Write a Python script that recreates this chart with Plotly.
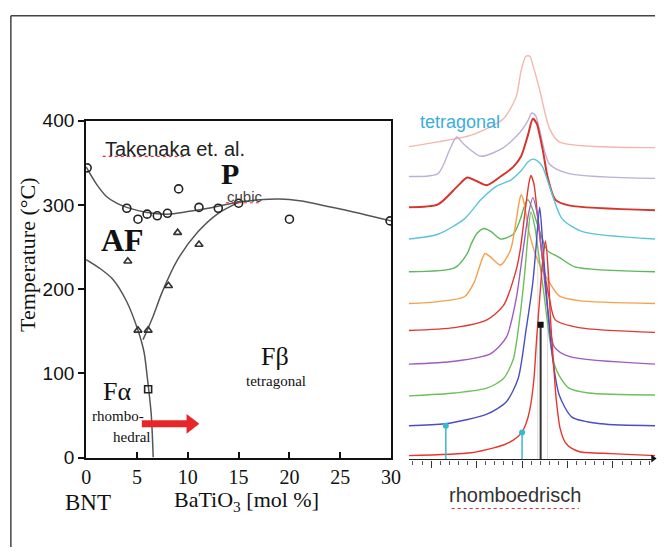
import plotly.graph_objects as go

W, H = 665, 558

# ---------------- Phase diagram data (x: BaTiO3 mol %, y: temperature in °C) ----------------
circ_x = [0.1, 4.0, 5.1, 6.0, 7.0, 8.0, 9.1, 11.1, 13.0, 15.0, 20.0, 29.9]
circ_y = [344, 296, 283, 289, 287, 290, 319, 297, 296, 302, 283, 281]
tri_x = [4.1, 5.1, 6.1, 8.1, 9.0, 11.1]
tri_y = [233, 151, 151, 204, 267, 253]
sq_x = [6.1]
sq_y = [81]

# upper boundary (AF/F -> P)
upper_x = [0, 1, 2, 3, 4, 6, 8, 10, 12, 14, 15, 17, 19, 21, 25, 30]
upper_y = [345, 325, 310, 302, 297, 291, 289, 292, 296, 301, 303, 306, 307, 305, 295, 281]
# AF / F-alpha boundary
afa_x = [0, 1.3, 2.6, 4.0, 5.1, 5.7, 6.0, 6.4, 6.6]
afa_y = [235, 225, 212, 185, 151, 125, 97, 52, 0]
# F-beta boundary
fb_x = [5.6, 6.5, 7.5, 9.0, 11.0, 13.0, 15.0]
fb_y = [140, 165, 197, 235, 268, 290, 303]

# arrow (BaTiO3 direction) at constant temperature
arrow_x = [5.48, 10.1]
arrow_y = [40, 40]

x_ticks = [0, 5, 10, 15, 20, 25, 30]
y_ticks = [0, 100, 200, 300, 400]

# ---------------- XRD stack data (position a.u., intensity + offset a.u.) ----------------
xrd_u = {
    "A": [0, 64, 87, 97, 107, 115, 120, 124, 128, 131, 134, 137, 140, 143, 145, 148, 151, 155, 160, 166, 175, 207, 252],
    "B": [0, 37, 80, 100, 112, 120, 127, 130, 134, 137, 140, 147, 154, 167, 197, 252],
    "C": [0, 47, 80, 97, 107, 114, 119, 122, 125, 129, 134, 139, 144, 149, 154, 164, 184, 252],
    "D": [0, 47, 84, 100, 110, 117, 122, 127, 132, 137, 142, 149, 164, 252],
    "E": [0, 47, 80, 97, 110, 114, 119, 123, 125, 128, 132, 137, 144, 150, 174, 252],
    "F": [0, 30, 57, 67, 74, 78, 83, 94, 104, 109, 113, 115, 118, 123, 132, 144, 154, 174, 252],
    "G": [0, 47, 60, 64, 70, 77, 84, 94, 107, 114, 118, 122, 126, 134, 142, 154, 170, 252],
    "H": [0, 30, 57, 74, 90, 104, 115, 122, 127, 132, 137, 144, 157, 177, 252],
    "I": [0, 30, 50, 60, 70, 80, 94, 107, 115, 122, 127, 131, 134, 138, 142, 150, 164, 252],
    "J": [0, 30, 42, 49, 57, 74, 97, 114, 122, 126, 130, 134, 144, 164, 252],
    "K": [0, 30, 64, 97, 110, 115, 120, 124, 127, 134, 144, 154, 252],
}
xrd_v = {
    "A": [4, 7, 12, 15, 20, 27, 37, 52, 82, 127, 167, 205, 227, 192, 147, 102, 62, 32, 18, 12, 8, 6, 4],
    "B": [35, 37, 47, 60, 84, 134, 184, 217, 262, 227, 184, 107, 67, 44, 37, 35],
    "C": [66, 69, 74, 84, 104, 150, 197, 232, 257, 242, 205, 167, 127, 99, 87, 74, 69, 67],
    "D": [99, 102, 110, 127, 167, 217, 252, 272, 252, 207, 157, 117, 107, 99],
    "E": [134, 137, 145, 160, 197, 217, 257, 287, 295, 287, 252, 207, 167, 145, 137, 132],
    "F": [162, 164, 169, 184, 205, 214, 211, 202, 217, 242, 267, 275, 267, 237, 207, 184, 170, 165, 162],
    "G": [195, 199, 214, 224, 235, 240, 237, 229, 234, 249, 262, 270, 262, 237, 217, 210, 200, 195],
    "H": [229, 234, 250, 270, 284, 290, 300, 309, 312, 310, 304, 284, 250, 237, 229],
    "I": [262, 265, 284, 293, 289, 285, 294, 304, 315, 337, 354, 349, 337, 317, 294, 270, 264, 259],
    "J": [294, 297, 322, 335, 327, 315, 324, 340, 352, 360, 357, 342, 307, 297, 292],
    "K": [325, 330, 337, 354, 377, 404, 419, 419, 410, 384, 344, 330, 324],
}
xrd_order = ["K", "J", "I", "H", "G", "F", "E", "D", "C", "B", "A"]
xrd_colors = {
    "A": "#e8352e", "B": "#4a4ec4", "C": "#6cc05a", "D": "#a05cc0", "E": "#dc3a32",
    "F": "#f5a04c", "G": "#5cb85a", "H": "#5cc4d8", "I": "#d4352c", "J": "#bdb0d4", "K": "#f6b6ae",
}
xrd_widths = {"I": 2.0}

# reference reflections
ref_cyan_u = [38, 116]
ref_cyan_v = [35, 28]
ref_black_u = [135]
ref_black_v = [140]

fig = go.Figure()

# ---- phase diagram ----
line_style = dict(color="#555555", width=1.5, shape="spline", smoothing=0.8)
for xs, ys in [(upper_x, upper_y), (afa_x, afa_y), (fb_x, fb_y)]:
    fig.add_trace(go.Scatter(x=xs, y=ys, mode="lines", line=line_style,
                             xaxis="x", yaxis="y", hoverinfo="skip"))
fig.add_trace(go.Scatter(x=circ_x, y=circ_y, mode="markers",
                         marker=dict(symbol="circle-open", size=8, color="#222",
                                     line=dict(width=1.6, color="#222")),
                         xaxis="x", yaxis="y"))
fig.add_trace(go.Scatter(x=tri_x, y=tri_y, mode="markers",
                         marker=dict(symbol="triangle-up-open", size=7, color="#333",
                                     line=dict(width=1.6, color="#333")),
                         xaxis="x", yaxis="y"))
fig.add_trace(go.Scatter(x=sq_x, y=sq_y, mode="markers",
                         marker=dict(symbol="square-open", size=7, color="#222",
                                     line=dict(width=1.6, color="#222")),
                         xaxis="x", yaxis="y"))
# red arrow
fig.add_trace(go.Scatter(x=arrow_x, y=arrow_y, mode="lines",
                         line=dict(color="#e8262a", width=7),
                         xaxis="x", yaxis="y", hoverinfo="skip"))
fig.add_trace(go.Scatter(x=[arrow_x[1] + 0.2], y=[arrow_y[1]], mode="markers",
                         marker=dict(symbol="triangle-right", size=17, color="#e8262a",
                                     line=dict(width=0)),
                         xaxis="x", yaxis="y", hoverinfo="skip"))

# ---- XRD stack ----
for gu in [132, 142]:
    fig.add_trace(go.Scatter(x=[gu, gu], y=[0, 215], mode="lines",
                             line=dict(color="#d6d6d6", width=0.8),
                             xaxis="x2", yaxis="y2", hoverinfo="skip"))
for k in xrd_order:
    fig.add_trace(go.Scatter(x=xrd_u[k], y=xrd_v[k], mode="lines",
                             line=dict(color=xrd_colors[k], width=xrd_widths.get(k, 1.4),
                                       shape="spline", smoothing=0.7),
                             xaxis="x2", yaxis="y2", hoverinfo="skip"))
for u, v in zip(ref_cyan_u, ref_cyan_v):
    fig.add_trace(go.Scatter(x=[u, u], y=[0, v], mode="lines",
                             line=dict(color="#3ab8d2", width=1.5),
                             xaxis="x2", yaxis="y2"))
fig.add_trace(go.Scatter(x=ref_cyan_u, y=ref_cyan_v, mode="markers",
                         marker=dict(symbol="circle", size=6, color="#3ab8d2"),
                         xaxis="x2", yaxis="y2"))
for u, v in zip(ref_black_u, ref_black_v):
    fig.add_trace(go.Scatter(x=[u, u], y=[0, v], mode="lines",
                             line=dict(color="#333333", width=2),
                             xaxis="x2", yaxis="y2"))
fig.add_trace(go.Scatter(x=ref_black_u, y=ref_black_v, mode="markers",
                         marker=dict(symbol="square", size=6, color="#111"),
                         xaxis="x2", yaxis="y2"))
fig.add_trace(go.Scatter(x=[250], y=[1], mode="markers",
                         marker=dict(symbol="triangle-right", size=7, color="#111"),
                         xaxis="x2", yaxis="y2", cliponaxis=False))

serif = "Liberation Serif"
sans = "Liberation Sans"


def px_x(p):
    return p / W


def px_y(p):
    return (H - p) / H


def note(text, x, y, font, xref="paper", yref="paper", xanchor="center", **kw):
    return dict(text=text, x=x, y=y, xref=xref, yref=yref, xanchor=xanchor,
                yanchor="middle", showarrow=False, font=font, **kw)


annotations = [
    note("Takenaka et. al.", 1.63, 366.5, dict(family=sans, size=20, color="#222"),
         xref="x", yref="y", xanchor="left"),
    note("<b>P</b>", 14.2, 337, dict(family=serif, size=30, color="#111"), xref="x", yref="y"),
    note("cubic", 15.6, 310, dict(family=sans, size=15, color="#444"), xref="x", yref="y"),
    note("<b>AF</b>", 3.56, 258, dict(family=serif, size=32, color="#111"), xref="x", yref="y"),
    note("Fα", 3.08, 78, dict(family=serif, size=26, color="#111"), xref="x", yref="y"),
    note("rhombo-", 3.17, 49, dict(family=serif, size=15, color="#111"), xref="x", yref="y"),
    note("hedral", 4.42, 24, dict(family=serif, size=15, color="#111"), xref="x", yref="y"),
    note("Fβ", 18.56, 120, dict(family=serif, size=26, color="#111"), xref="x", yref="y"),
    note("tetragonal", 18.65, 90.5, dict(family=serif, size=15, color="#111"), xref="x", yref="y"),
    note("Temperature (°C)", px_x(23), px_y(254), dict(family=serif, size=22, color="#111"),
         textangle=-90),
    note("BNT", px_x(85), px_y(512), dict(family=serif, size=23, color="#111")),
    note("BaTiO<sub>3</sub> [mol %]", px_x(247), px_y(510),
         dict(family=serif, size=22, color="#111")),
    note("tetragonal", px_x(466), px_y(116), dict(family=sans, size=18, color="#3aaee0")),
    note("rhomboedrisch", px_x(522), px_y(504), dict(family=sans, size=20, color="#333")),
]

red_ul = dict(color="#e03030", width=1.2, dash="dot")
shapes = [
    dict(type="line", xref="paper", yref="paper", x0=px_x(6), x1=1, y0=px_y(6), y1=px_y(6),
         line=dict(color="#444", width=1.5)),
    dict(type="line", xref="paper", yref="paper", x0=px_x(6), x1=px_x(6), y0=0, y1=px_y(6),
         line=dict(color="#444", width=1.5)),
    dict(type="line", xref="x", yref="y", x0=1.63, x1=9.81, y0=357.6, y1=357.6, line=red_ul),
    dict(type="line", xref="x", yref="y", x0=13.75, x1=17.3, y0=302.5, y1=302.5, line=red_ul),
    dict(type="line", xref="paper", yref="paper", x0=px_x(457), x1=px_x(587),
         y0=px_y(518), y1=px_y(518), line=red_ul),
]

fig.update_layout(
    width=W, height=H, autosize=False,
    margin=dict(l=0, r=0, t=0, b=0),
    paper_bgcolor="white", plot_bgcolor="rgba(0,0,0,0)",
    showlegend=False,
    xaxis=dict(domain=[83 / W, 395 / W], range=[0, 30], tickvals=x_ticks,
               ticks="inside", ticklen=6, tickwidth=1.5, tickcolor="#111",
               showline=True, linecolor="#111", linewidth=2, mirror=True,
               showgrid=False, zeroline=False, anchor="y",
               tickfont=dict(family=serif, size=20, color="#111")),
    yaxis=dict(domain=[px_y(465), px_y(115)], range=[0, 400], tickvals=y_ticks,
               ticks="outside", ticklen=6, tickwidth=1.5, tickcolor="#111",
               showline=True, linecolor="#111", linewidth=2, mirror=True,
               showgrid=False, zeroline=False, anchor="x",
               tickfont=dict(family=sans, size=19, color="#111")),
    xaxis2=dict(domain=[413 / W, 1], range=[0, 252], anchor="y2",
                showline=True, linecolor="#222", linewidth=1.3,
                ticks="outside", ticklen=7, tickwidth=1, tickcolor="#333",
                tick0=23, dtick=46.5, showticklabels=False, showgrid=False, zeroline=False,
                minor=dict(ticks="outside", ticklen=4, tickwidth=1, tickcolor="#555",
                           tick0=23, dtick=9.3, showgrid=False)),
    yaxis2=dict(domain=[px_y(467), px_y(37)], range=[0, 430], anchor="x2", visible=False),
    annotations=annotations,
    shapes=shapes,
)

fig.write_html("out.html")
